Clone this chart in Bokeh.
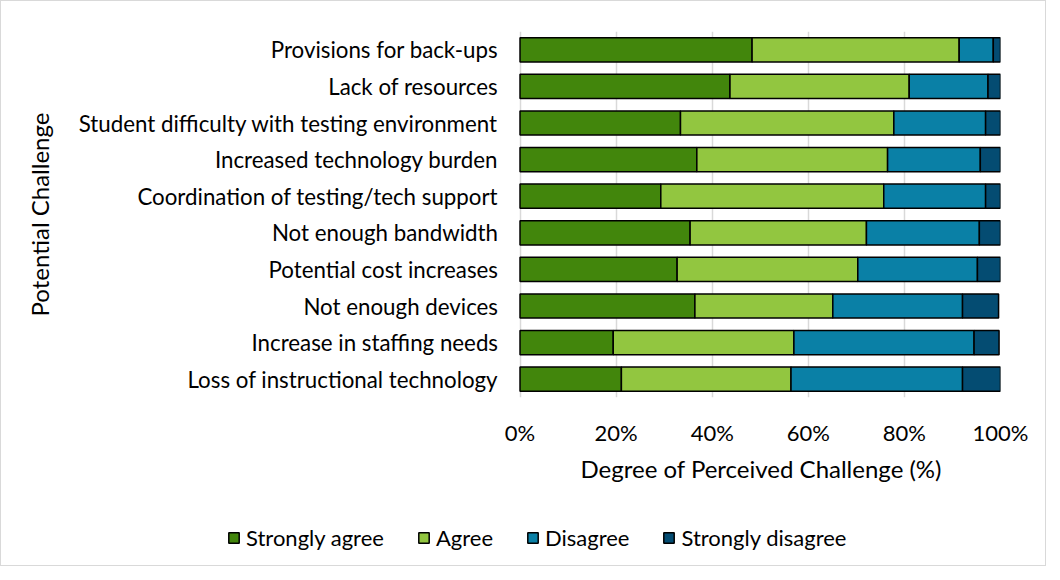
from bokeh.plotting import figure
from bokeh.layouts import column
from bokeh.models import (Legend, LegendItem, FixedTicker, PrintfTickFormatter,
                          ColumnDataSource, Title)
from bokeh.core.properties import value
from bokeh.embed import file_html
from bokeh.resources import INLINE

challenges = [
    "Provisions for back-ups",
    "Lack of resources",
    "Student difficulty with testing environment",
    "Increased technology burden",
    "Coordination of testing/tech support",
    "Not enough bandwidth",
    "Potential cost increases",
    "Not enough devices",
    "Increase in staffing needs",
    "Loss of instructional technology",
]
strongly_agree = [48.3, 43.7, 33.4, 36.8, 29.3, 35.4, 32.7, 36.4, 19.4, 21.1]
agree = [43.1, 37.3, 44.4, 39.7, 46.4, 36.7, 37.6, 28.7, 37.6, 35.3]
disagree = [7.1, 16.4, 19.1, 19.3, 21.2, 23.5, 24.9, 27.0, 37.5, 35.7]
strongly_disagree = [1.5, 2.6, 3.1, 4.2, 3.1, 4.4, 4.8, 7.5, 5.2, 7.9]
series_names = ["Strongly agree", "Agree", "Disagree", "Strongly disagree"]
colors = ["#42860C", "#92C640", "#0A80A6", "#044C72"]
x_ticks = [0, 20, 40, 60, 80, 100]

FONT = "Lato"
keys = ["sa", "a", "d", "sd"]
source = ColumnDataSource(dict(cat=challenges, sa=strongly_agree, a=agree,
                               d=disagree, sd=strongly_disagree))

# layout constants (pixels)
W = 1044
H_MAIN = 500
H_LEG = 64
BAR_LEFT = 518       # where 0% sits
BAR_RIGHT = 999      # where 100% sits
FRAME_LEFT = 72      # frame extends left so the label column lives inside it
px_per_unit = (BAR_RIGHT - BAR_LEFT) / 100.0
x_start = -(BAR_LEFT - FRAME_LEFT) / px_per_unit

p = figure(y_range=list(reversed(challenges)), x_range=(x_start, 100),
           width=W, height=H_MAIN, output_backend="svg", toolbar_location=None,
           min_border_left=FRAME_LEFT, min_border_right=W - BAR_RIGHT,
           min_border_top=30, min_border_bottom=H_MAIN - 396)

renderers = p.hbar_stack(keys, y="cat", height=0.66, color=colors, source=source,
                         line_color="black", line_width=1.5)
for r, c in zip(renderers, colors):
    r.glyph.fill_color = c
    r.glyph.line_color = "black"

# category labels, right-aligned just left of the 0% line
p.text(x=0, y="cat", text="cat", source=source, x_offset=-22,
       text_align="right", text_baseline="middle",
       text_font=value(FONT), text_font_size="22.3px", text_color="#000000")

p.outline_line_color = None
p.ygrid.grid_line_color = None
p.xgrid.grid_line_color = "#d9d9d9"
p.xgrid.grid_line_width = 1.5
p.xgrid.ticker = FixedTicker(ticks=x_ticks)

p.xaxis.ticker = FixedTicker(ticks=x_ticks)
p.xaxis.formatter = PrintfTickFormatter(format="%d%%")
p.xaxis.axis_line_color = None
p.xaxis.major_tick_line_color = None
p.xaxis.minor_tick_line_color = None
p.xaxis.major_tick_out = 0
p.xaxis.major_tick_in = 0
p.xaxis.minor_tick_out = 0
p.xaxis.major_label_standoff = 21
p.xaxis.major_label_text_font = FONT
p.xaxis.major_label_text_font_size = "22px"
p.xaxis.major_label_text_color = "#000000"

p.add_layout(Title(text="Degree of Perceived Challenge (%)", align="left",
                   offset=518 - (FRAME_LEFT - 60), standoff=6, text_font=FONT,
                   text_font_size="24px", text_font_style="normal",
                   text_color="#000000"), "below")

p.yaxis.visible = False
p.add_layout(Title(text="Potential Challenge", align="center",
                   standoff=16 + 14 + (FRAME_LEFT - 60),
                   text_font=FONT, text_font_size="24px",
                   text_font_style="normal", text_color="#000000"), "left")

# legend strip below the chart; hidden copies of the stacked bars feed the swatches
pl = figure(width=W, height=H_LEG, output_backend="svg", toolbar_location=None,
            y_range=list(reversed(challenges)), x_range=(x_start, 100),
            min_border_left=FRAME_LEFT, min_border_right=W - BAR_RIGHT,
            min_border_top=0, min_border_bottom=0)
pl.axis.visible = False
pl.grid.visible = False
pl.outline_line_color = None
hidden = pl.hbar_stack(keys, y="cat", height=0.66, color=colors, source=source,
                       line_color="black", line_width=1.5)
for r, c in zip(hidden, colors):
    r.glyph.fill_color = c
    r.glyph.line_color = "black"
    r.visible = False
leg_items = [LegendItem(label=n, renderers=[r]) for n, r in zip(series_names, hidden)]
legend = Legend(items=leg_items, orientation="horizontal",
                location=(225 - FRAME_LEFT, 14),
                glyph_width=13, glyph_height=13, label_height=24,
                label_standoff=6, spacing=33, padding=0, margin=0,
                label_text_font=FONT, label_text_font_size="22px",
                label_text_color="#000000", border_line_color=None,
                background_fill_alpha=0, inactive_fill_alpha=0)
pl.add_layout(legend, "center")

layout = column(p, pl, spacing=0)
layout.styles = {"border": "1px solid #d9d9d9"}

open("out.html", "w").write(file_html(layout, INLINE))
